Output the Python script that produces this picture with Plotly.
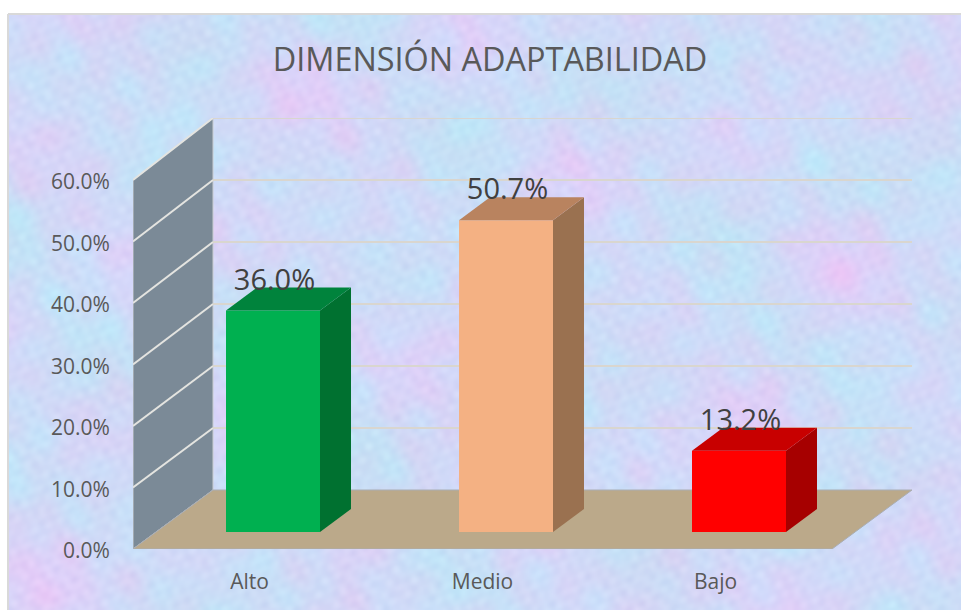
import base64, struct, zlib
import numpy as np
import plotly.graph_objects as go

# ---- data ----
categories = ["Alto", "Medio", "Bajo"]
values = [36.0, 50.7, 13.2]
y_ticks = [0, 10, 20, 30, 40, 50, 60]
title_text = "DIMENSIÓN ADAPTABILIDAD"

front_colors = ["#00b050", "#f4b183", "#ff0000"]
side_colors = ["#007130", "#9a7150", "#a60000"]
top_colors = ["#00833c", "#b9835f", "#c80000"]

# ---- layout geometry of the fake 3-D box ----
W, H = 961, 610
L, R, T, B = 133, 913, 118, 549
px_per_cat = 233.0
px_per_unit = 6.15
x_lo = -0.5
x_hi = x_lo + (R - L) / px_per_cat
y_hi = (B - T) / px_per_unit
wall_dx = 80 / px_per_cat
floor_dy = 59 / px_per_unit                            # depth rise of the floor
back_scale = 62 / 61.5                                 # back wall is drawn very slightly taller
bar_dx, bar_dy = 31 / px_per_cat, 23 / px_per_unit     # depth of one bar
shift_x, base_y = 23.5 / px_per_cat, 17 / px_per_unit  # bar front within floor
bar_w = 94 / px_per_cat
n = len(categories)


def back_y(t):
    return floor_dy + t * back_scale


def png_uri(rgb):
    h, w, _ = rgb.shape
    raw = b"".join(b"\x00" + rgb[i].tobytes() for i in range(h))
    def chunk(t, d):
        return struct.pack(">I", len(d)) + t + d + struct.pack(">I", zlib.crc32(t + d) & 0xffffffff)
    data = b"\x89PNG\r\n\x1a\n" + chunk(b"IHDR", struct.pack(">IIBBBBB", w, h, 8, 2, 0, 0, 0)) \
        + chunk(b"IDAT", zlib.compress(raw)) + chunk(b"IEND", b"")
    return "data:image/png;base64," + base64.b64encode(data).decode()


def texture():
    yy, xx = np.mgrid[0:298, 0:477].astype(float)
    def waves(fs):
        out = np.zeros_like(xx)
        for fx, fy, ph in fs:
            out += np.sin(xx * fx + yy * fy + ph)
        return out / len(fs)
    pink = waves([(0.031, 0.047, 0.3), (0.053, -0.029, 1.7), (-0.071, 0.061, 4.1), (0.019, 0.083, 2.2)])
    cyan = waves([(0.043, 0.026, 2.9), (-0.037, 0.059, 0.8), (0.077, 0.041, 5.3), (0.023, -0.067, 3.6)])
    mid = waves([(0.17, 0.11, 0.9), (-0.13, 0.19, 2.4), (0.23, -0.09, 3.3), (0.08, 0.27, 5.7), (-0.29, 0.14, 1.3)])
    fine = waves([(0.61, 0.37, 0.2), (-0.43, 0.71, 1.1), (0.83, -0.29, 2.7), (0.27, 0.93, 3.9),
                  (-0.97, 0.53, 5.1), (0.39, -0.79, 0.7), (1.13, 0.47, 4.4), (0.57, 1.21, 2.1)])
    r = 208 + 14 * pink - 10 * cyan - 9 * mid + 8 * fine
    g = 219 - 9 * pink + 8 * cyan + 8 * mid + 8 * fine
    b = 248 + 2 * pink + 1 * cyan + 3 * mid + 4 * fine
    return np.clip(np.dstack([r, g, b]), 0, 255).astype(np.uint8)


def poly(pts):
    return "M " + " L ".join(f"{a},{b}" for a, b in pts) + " Z"


top_tick = y_ticks[-1]
shapes = [
    # side wall
    dict(type="path", layer="below", xref="x", yref="y", line=dict(color="#c9ccd0", width=1), fillcolor="#7b8a97",
         path=poly([(x_lo, 0), (x_lo + wall_dx, back_y(0)), (x_lo + wall_dx, back_y(top_tick)), (x_lo, top_tick)])),
    # floor
    dict(type="path", layer="below", xref="x", yref="y", line=dict(color="#a9adb3", width=1), fillcolor="#bba98a",
         path=poly([(x_lo, 0), (x_lo + n, 0), (x_lo + n + wall_dx, back_y(0)), (x_lo + wall_dx, back_y(0))])),
]
for t in y_ticks[1:]:
    shapes.append(dict(type="line", layer="below", xref="x", yref="y", x0=x_lo, y0=t,
                       x1=x_lo + wall_dx, y1=back_y(t), line=dict(color="#e4e4e0", width=2)))
    shapes.append(dict(type="line", layer="below", xref="x", yref="y", x0=x_lo + wall_dx, y0=back_y(t),
                       x1=x_lo + n + wall_dx, y1=back_y(t), line=dict(color="#d9d6cf", width=2)))
# chart frame (left and top edges; the others are outside the photograph)
fx = lambda p: (p - L) / (R - L)
fy = lambda p: (B - p) / (B - T)
shapes.append(dict(type="line", layer="below", xref="paper", yref="paper", x0=fx(8), x1=fx(8), y0=fy(14), y1=fy(610),
                   line=dict(color="#d9d9d9", width=2)))
shapes.append(dict(type="line", layer="below", xref="paper", yref="paper", x0=fx(8), x1=fx(961), y0=fy(14), y1=fy(14),
                   line=dict(color="#d9d9d9", width=2)))

fig = go.Figure()
centers = [i + shift_x for i in range(n)]
tops = [v + base_y for v in values]

fig.add_trace(go.Bar(x=centers, y=values, base=[base_y] * n, width=bar_w,
                     marker=dict(color=front_colors, line=dict(width=0)),
                     hoverinfo="skip", showlegend=False))
for c, top, sc, tc in zip(centers, tops, side_colors, top_colors):
    xl, xr = c - bar_w / 2, c + bar_w / 2
    fig.add_trace(go.Scatter(x=[xr, xr + bar_dx, xr + bar_dx, xr, xr],
                             y=[base_y, base_y + bar_dy, top + bar_dy, top, base_y],
                             fill="toself", fillcolor=sc, mode="lines", line=dict(width=0, color=sc),
                             hoverinfo="skip", showlegend=False))
    fig.add_trace(go.Scatter(x=[xl, xr, xr + bar_dx, xl + bar_dx, xl],
                             y=[top, top, top + bar_dy, top + bar_dy, top],
                             fill="toself", fillcolor=tc, mode="lines", line=dict(width=0, color=tc),
                             hoverinfo="skip", showlegend=False))

fig.add_trace(go.Scatter(x=[c + 1.5 / px_per_cat for c in centers], y=[t + 28 / px_per_unit for t in tops], mode="text",
                         text=[f"{v:.1f}%" for v in values], textposition="middle center",
                         textfont=dict(family="Open Sans", size=29, color="#404040"),
                         hoverinfo="skip", showlegend=False, cliponaxis=False))

fig.update_layout(
    width=W, height=H, autosize=False,
    margin=dict(l=L, r=W - R, t=T, b=H - B, pad=0),
    paper_bgcolor="#ffffff", plot_bgcolor="rgba(0,0,0,0)",
    showlegend=False,
    title=dict(text=title_text, x=490 / W, y=1 - 60 / H, xref="container", yref="container",
               xanchor="center", yanchor="middle",
               font=dict(family="Open Sans", size=32.4, color="#595959")),
    xaxis=dict(range=[x_lo, x_hi], tickvals=list(range(n)), ticktext=categories, showgrid=False, zeroline=False,
               showline=False, ticks="outside", ticklen=14, tickcolor="rgba(0,0,0,0)",
               tickfont=dict(family="Open Sans", size=21, color="#595959")),
    yaxis=dict(range=[0, y_hi], tickvals=y_ticks, ticktext=[f"{t:.1f}%" for t in y_ticks], showgrid=False,
               zeroline=False, showline=False, ticks="outside", ticklen=18, tickcolor="rgba(0,0,0,0)",
               ticklabelshift=2,
               tickfont=dict(family="Open Sans", size=21, color="#595959")),
    shapes=shapes,
    images=[dict(source=png_uri(texture()), xref="paper", yref="paper", x=fx(8), y=fy(14),
                 sizex=(961 - 8) / (R - L), sizey=(610 - 14) / (B - T), sizing="stretch",
                 xanchor="left", yanchor="top", layer="below")],
)

fig.write_html("out.html", config=dict(displayModeBar=False),
               post_script="document.body.style.margin='0';")
